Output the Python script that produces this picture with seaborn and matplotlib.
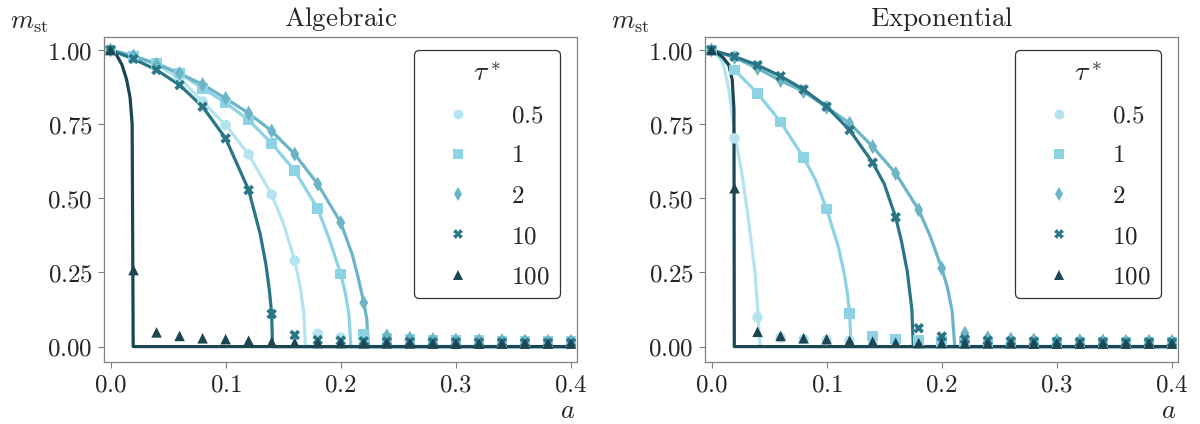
import numpy as np
import pandas as pd
import matplotlib
matplotlib.use("Agg")
import matplotlib.pyplot as plt
from matplotlib.ticker import FuncFormatter
import seaborn as sns

# ---------------- data ----------------
taus = ["0.5", "1", "2", "10", "100"]
a_markers = [0.00, 0.02, 0.04, 0.06, 0.08, 0.10, 0.12, 0.14, 0.16, 0.18, 0.20,
             0.22, 0.24, 0.26, 0.28, 0.30, 0.32, 0.34, 0.36, 0.38, 0.40]

# Algebraic: simulation markers
alg_m_05 = [1.0, 0.98, 0.95, 0.905, 0.826, 0.747, 0.648, 0.513, 0.29, 0.043, 0.03,
            0.025, 0.022, 0.02, 0.02, 0.018, 0.018, 0.017, 0.017, 0.016, 0.016]
alg_m_1 = [1.0, 0.98, 0.955, 0.922, 0.871, 0.822, 0.764, 0.685, 0.593, 0.465, 0.245,
           0.04, 0.028, 0.024, 0.022, 0.02, 0.02, 0.018, 0.018, 0.017, 0.017]
alg_m_2 = [1.0, 0.98, 0.952, 0.921, 0.884, 0.837, 0.787, 0.727, 0.649, 0.548, 0.418,
           0.148, 0.036, 0.028, 0.024, 0.022, 0.02, 0.02, 0.019, 0.018, 0.018]
alg_m_10 = [1.0, 0.97, 0.933, 0.882, 0.809, 0.702, 0.528, 0.11, 0.039, 0.022, 0.02,
            0.018, 0.017, 0.016, 0.015, 0.015, 0.014, 0.014, 0.013, 0.013, 0.013]
alg_m_100 = [1.0, 0.258, 0.048, 0.036, 0.028, 0.025, 0.02, 0.015, 0.013, 0.012, 0.012,
             0.011, 0.011, 0.011, 0.01, 0.01, 0.01, 0.01, 0.01, 0.01, 0.01]

# Exponential: simulation markers
exp_m_05 = [1.0, 0.702, 0.099, 0.03, 0.025, 0.022, 0.02, 0.018, 0.016, 0.015, 0.015,
            0.014, 0.014, 0.013, 0.013, 0.012, 0.012, 0.012, 0.012, 0.012, 0.012]
exp_m_1 = [1.0, 0.933, 0.854, 0.758, 0.637, 0.464, 0.112, 0.036, 0.025, 0.02, 0.018,
           0.017, 0.016, 0.015, 0.015, 0.014, 0.014, 0.014, 0.013, 0.013, 0.013]
exp_m_2 = [1.0, 0.975, 0.938, 0.897, 0.86, 0.807, 0.753, 0.674, 0.584, 0.461, 0.264,
           0.045, 0.03, 0.025, 0.022, 0.02, 0.02, 0.019, 0.018, 0.018, 0.018]
exp_m_10 = [1.0, 0.978, 0.949, 0.912, 0.867, 0.809, 0.73, 0.62, 0.436, 0.062, 0.034,
            0.025, 0.02, 0.018, 0.017, 0.016, 0.015, 0.015, 0.014, 0.014, 0.014]
exp_m_100 = [1.0, 0.534, 0.05, 0.036, 0.028, 0.025, 0.02, 0.017, 0.013, 0.012, 0.012,
             0.011, 0.011, 0.011, 0.01, 0.01, 0.01, 0.01, 0.01, 0.01, 0.01]

# Algebraic: theory curves
alg_a_05 = [0, 0.02, 0.04, 0.06, 0.08, 0.10, 0.12, 0.14, 0.15, 0.16, 0.165, 0.168, 0.1693, 0.40]
alg_l_05 = [1, 0.98, 0.95, 0.905, 0.826, 0.747, 0.648, 0.513, 0.417, 0.29, 0.197, 0.108, 0.0, 0.0]
alg_a_1 = [0, 0.02, 0.04, 0.06, 0.08, 0.10, 0.12, 0.14, 0.16, 0.18, 0.19, 0.20, 0.204, 0.207, 0.2088, 0.40]
alg_l_1 = [1, 0.98, 0.955, 0.922, 0.871, 0.822, 0.764, 0.685, 0.593, 0.465, 0.363, 0.245, 0.18, 0.11, 0.0, 0.0]
alg_a_2 = [0, 0.02, 0.04, 0.06, 0.08, 0.10, 0.12, 0.14, 0.16, 0.18, 0.20, 0.21, 0.215, 0.22, 0.2225, 0.2242, 0.40]
alg_l_2 = [1, 0.98, 0.952, 0.921, 0.884, 0.837, 0.787, 0.727, 0.649, 0.548, 0.418, 0.31, 0.235, 0.148, 0.095, 0.0, 0.0]
alg_a_10 = [0, 0.02, 0.04, 0.06, 0.08, 0.10, 0.12, 0.13, 0.135, 0.138, 0.14, 0.1407, 0.40]
alg_l_10 = [1, 0.97, 0.933, 0.882, 0.809, 0.702, 0.528, 0.38, 0.277, 0.19, 0.11, 0.0, 0.0]
alg_a_100 = [0, 0.005, 0.01, 0.014, 0.017, 0.0188, 0.0197, 0.40]
alg_l_100 = [1, 0.985, 0.95, 0.9, 0.84, 0.75, 0.0, 0.0]

# Exponential: theory curves
exp_a_05 = [0, 0.005, 0.01, 0.015, 0.02, 0.027, 0.0317, 0.0378, 0.0406, 0.0421, 0.40]
exp_l_05 = [1, 0.988, 0.955, 0.87, 0.72, 0.57, 0.44, 0.25, 0.10, 0.0, 0.0]
exp_a_1 = [0, 0.02, 0.04, 0.06, 0.08, 0.09, 0.10, 0.11, 0.115, 0.118, 0.12, 0.1212, 0.40]
exp_l_1 = [1, 0.933, 0.854, 0.758, 0.637, 0.565, 0.464, 0.339, 0.252, 0.18, 0.112, 0.0, 0.0]
exp_a_2 = [0, 0.02, 0.04, 0.06, 0.08, 0.10, 0.12, 0.14, 0.16, 0.18, 0.19, 0.20, 0.205, 0.209, 0.2113, 0.40]
exp_l_2 = [1, 0.975, 0.938, 0.897, 0.86, 0.807, 0.753, 0.674, 0.584, 0.461, 0.372, 0.264, 0.198, 0.12, 0.0, 0.0]
exp_a_10 = [0, 0.02, 0.04, 0.06, 0.08, 0.10, 0.12, 0.14, 0.15, 0.16, 0.165, 0.17, 0.174, 0.1753, 0.40]
exp_l_10 = [1, 0.978, 0.949, 0.912, 0.867, 0.809, 0.73, 0.62, 0.549, 0.436, 0.355, 0.255, 0.126, 0.0, 0.0]
exp_a_100 = [0, 0.005, 0.01, 0.015, 0.018, 0.0195, 0.0198, 0.40]
exp_l_100 = [1, 0.99, 0.975, 0.95, 0.90, 0.80, 0.0, 0.0]

x_ticks = [0.0, 0.1, 0.2, 0.3, 0.4]
y_ticks = [0.0, 0.25, 0.5, 0.75, 1.0]
panel_titles = ["Algebraic", "Exponential"]

colors = ["#b4e4ef", "#8dd3e4", "#6bb5c6", "#2a7687", "#1c4651"]
marker_shapes = ["o", "s", "d", "X", "^"]

panels = [
    dict(title=panel_titles[0],
         marks=[alg_m_05, alg_m_1, alg_m_2, alg_m_10, alg_m_100],
         la=[alg_a_05, alg_a_1, alg_a_2, alg_a_10, alg_a_100],
         lm=[alg_l_05, alg_l_1, alg_l_2, alg_l_10, alg_l_100]),
    dict(title=panel_titles[1],
         marks=[exp_m_05, exp_m_1, exp_m_2, exp_m_10, exp_m_100],
         la=[exp_a_05, exp_a_1, exp_a_2, exp_a_10, exp_a_100],
         lm=[exp_l_05, exp_l_1, exp_l_2, exp_l_10, exp_l_100]),
]

# ---------------- style ----------------
sns.set_style("ticks")
plt.rcParams["mathtext.fontset"] = "cm"
plt.rcParams["font.family"] = ["DejaVu Serif", "DejaVu Sans"]

FS = 18
fig = plt.figure(figsize=(12, 4.24), dpi=100)
rects = [[104 / 1200, 1 - 362 / 424, 473 / 1200, 325 / 424],
         [705 / 1200, 1 - 362 / 424, 473 / 1200, 325 / 424]]

palette = dict(zip(taus, colors))
mk = dict(zip(taus, marker_shapes))

for rect, p in zip(rects, panels):
    ax = fig.add_axes(rect)
    line_rows = []
    for t, aa, mm in zip(taus, p["la"], p["lm"]):
        for x, y in zip(aa, mm):
            line_rows.append((t, x, y))
    ldf = pd.DataFrame(line_rows, columns=["tau", "a", "m"])
    mark_rows = []
    for t, mm in zip(taus, p["marks"]):
        for x, y in zip(a_markers, mm):
            mark_rows.append((t, x, y))
    mdf = pd.DataFrame(mark_rows, columns=["tau", "a", "m"])

    sns.lineplot(data=ldf, x="a", y="m", hue="tau", hue_order=taus, palette=palette,
                 estimator=None, sort=False, linewidth=2.3, legend=False, ax=ax)
    sns.scatterplot(data=mdf, x="a", y="m", hue="tau", style="tau", hue_order=taus,
                    style_order=taus, palette=palette, markers=mk, s=58,
                    linewidth=0, edgecolor="none", legend=True, ax=ax, zorder=3)

    handles, labels = ax.get_legend_handles_labels()
    for h in handles:
        try:
            h.set_markersize(7)
        except Exception:
            pass
    leg = ax.legend(handles, [r"$%s$" % l for l in labels], title=r"$\tau^*$",
                    loc="upper right", bbox_to_anchor=(0.964, 0.96),
                    fontsize=FS, title_fontsize=20, frameon=True, fancybox=True,
                    framealpha=1, edgecolor="#333333", borderpad=0.4,
                    labelspacing=0.69, handlelength=2.7, handletextpad=0.8,
                    borderaxespad=0)
    leg.get_frame().set_linewidth(0.9)

    ax.set_xlim(-0.00565, 0.4052)
    ax.set_ylim(-0.052, 1.044)
    ax.set_xticks(x_ticks)
    ax.set_yticks(y_ticks)
    ax.xaxis.set_major_formatter(FuncFormatter(lambda v, _: r"$%.1f$" % v))
    ax.yaxis.set_major_formatter(FuncFormatter(lambda v, _: r"$%.2f$" % v))
    ax.tick_params(labelsize=FS, length=4, width=0.8, color="#808080", pad=4)
    for s in ax.spines.values():
        s.set_color("#808080")
        s.set_linewidth(0.9)
    ax.set_xlabel("")
    ax.set_ylabel("")
    ax.text(0.5, 1.055, r"$\mathrm{%s}$" % p["title"], transform=ax.transAxes,
            ha="center", va="center", fontsize=19.5)
    ax.text(-0.157, 1.045, r"$m_{\mathrm{st}}$", transform=ax.transAxes,
            ha="center", va="center", fontsize=FS + 1)
    ax.text(0.98, -0.148, r"$a$", transform=ax.transAxes,
            ha="center", va="center", fontsize=FS + 1)

fig.savefig("out.png", dpi=100)
